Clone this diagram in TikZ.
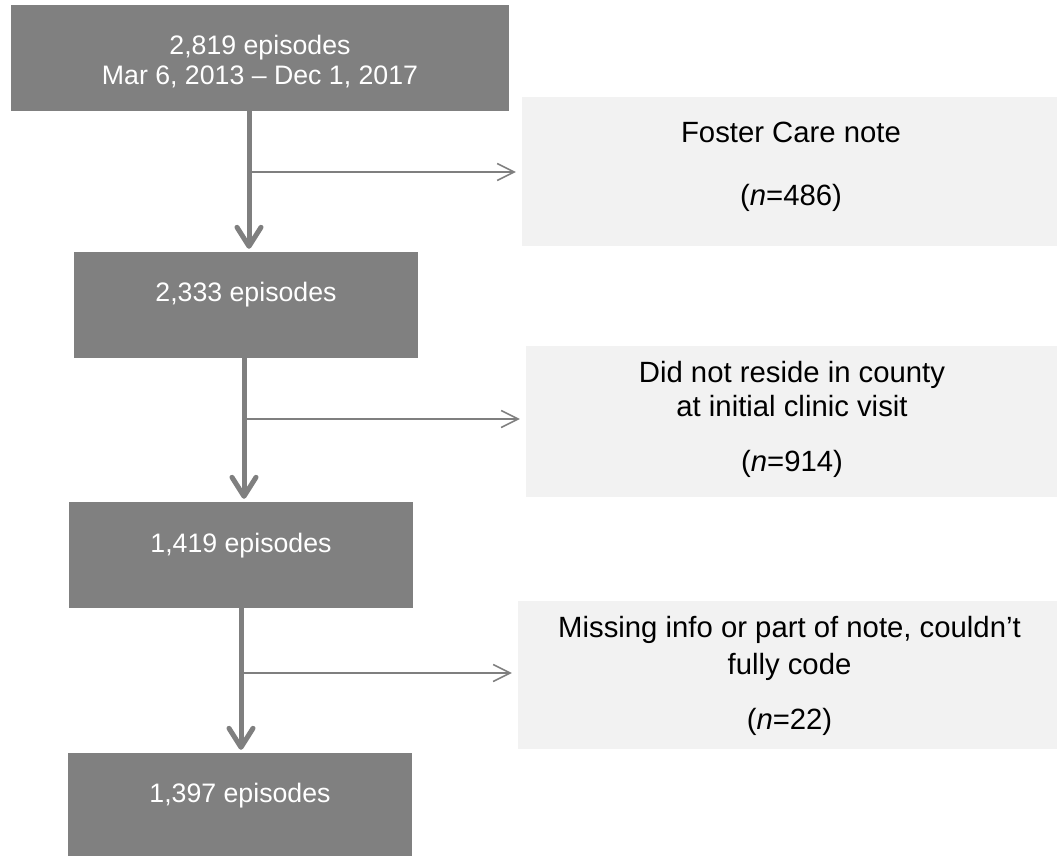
\documentclass[tikz,border=0pt]{standalone}
\usepackage{fontspec}
\setmainfont{Liberation Sans}
\usetikzlibrary{arrows.meta}
\definecolor{boxgray}{HTML}{808080}
\definecolor{palegray}{HTML}{F2F2F2}
\definecolor{arrowgray}{HTML}{7F7F7F}
\begin{document}
\begin{tikzpicture}[x=1pt,y=-1pt,
  darkbox/.style={fill=boxgray, draw=none, inner sep=0pt},
  lightbox/.style={fill=palegray, draw=none, inner sep=0pt},
  wtext/.style={text=white, anchor=base, inner sep=0pt, font=\fontsize{26.7}{30}\selectfont},
  btext/.style={text=black, anchor=base, inner sep=0pt, font=\fontsize{29.3}{33}\selectfont},
  mainarrow/.style={draw=arrowgray, line width=5pt, shorten >=3pt,
    -{Straight Barb[length=19pt,width=24pt,round]}},
  sidearrow/.style={draw=arrowgray, line width=1.5pt, shorten >=6pt,
    -{Straight Barb[length=17pt,width=17pt]}}]
\useasboundingbox (0,0) rectangle (1057,855);

% main column boxes
\node[darkbox, minimum width=498pt, minimum height=106pt] (b1) at (260,58) {};
\node[darkbox, minimum width=344pt, minimum height=106pt] (b2) at (246,305) {};
\node[darkbox, minimum width=344pt, minimum height=106pt] (b3) at (241,555) {};
\node[darkbox, minimum width=344pt, minimum height=107pt] (b4) at (240,806.5) {};

% exclusion boxes
\node[lightbox, minimum width=535pt, minimum height=149pt] (r1) at (789.5,171.5) {};
\node[lightbox, minimum width=531pt, minimum height=151pt] (r2) at (791.5,421.5) {};
\node[lightbox, minimum width=539pt, minimum height=148pt] (r3) at (787.5,675) {};

% texts in main boxes
\node[wtext] (t1a) at (260,54) {2,819 episodes};
\node[wtext] (t1b) at (260,84) {Mar 6, 2013 – Dec 1, 2017};
\node[wtext] (t2) at (246,301) {2,333 episodes};
\node[wtext] (t3) at (241,552) {1,419 episodes};
\node[wtext] (t4) at (240,802) {1,397 episodes};

% texts in exclusion boxes
\node[btext] (s1a) at (791,142) {Foster Care note};
\node[btext] (s1b) at (791,205) {(\textit{n}=486)};
\node[btext] (s2a) at (792,382) {Did not reside in county};
\node[btext] (s2b) at (792,416) {at initial clinic visit};
\node[btext] (s2c) at (792,471) {(\textit{n}=914)};
\node[btext] (s3a) at (789.5,637) {Missing info or part of note, couldn’t};
\node[btext] (s3b) at (789.5,674) {fully code};
\node[btext] (s3c) at (789.5,729) {(\textit{n}=22)};

% junctions on the main arrows
\coordinate (j1) at (249,172);
\coordinate (j2) at (244,419);
\coordinate (j3) at (241,673);

% main arrows
\draw[mainarrow] (b1.south -| j1) -- (b2.north -| j1);
\draw[mainarrow] (b2.south -| j2) -- (b3.north -| j2);
\draw[mainarrow] (b3.south -| j3) -- (b4.north -| j3);

% side arrows
\draw[sidearrow] (j1) -- (r1.west |- j1);
\draw[sidearrow] (j2) -- (r2.west |- j2);
\draw[sidearrow] (j3) -- (r3.west |- j3);
\end{tikzpicture}
\end{document}
